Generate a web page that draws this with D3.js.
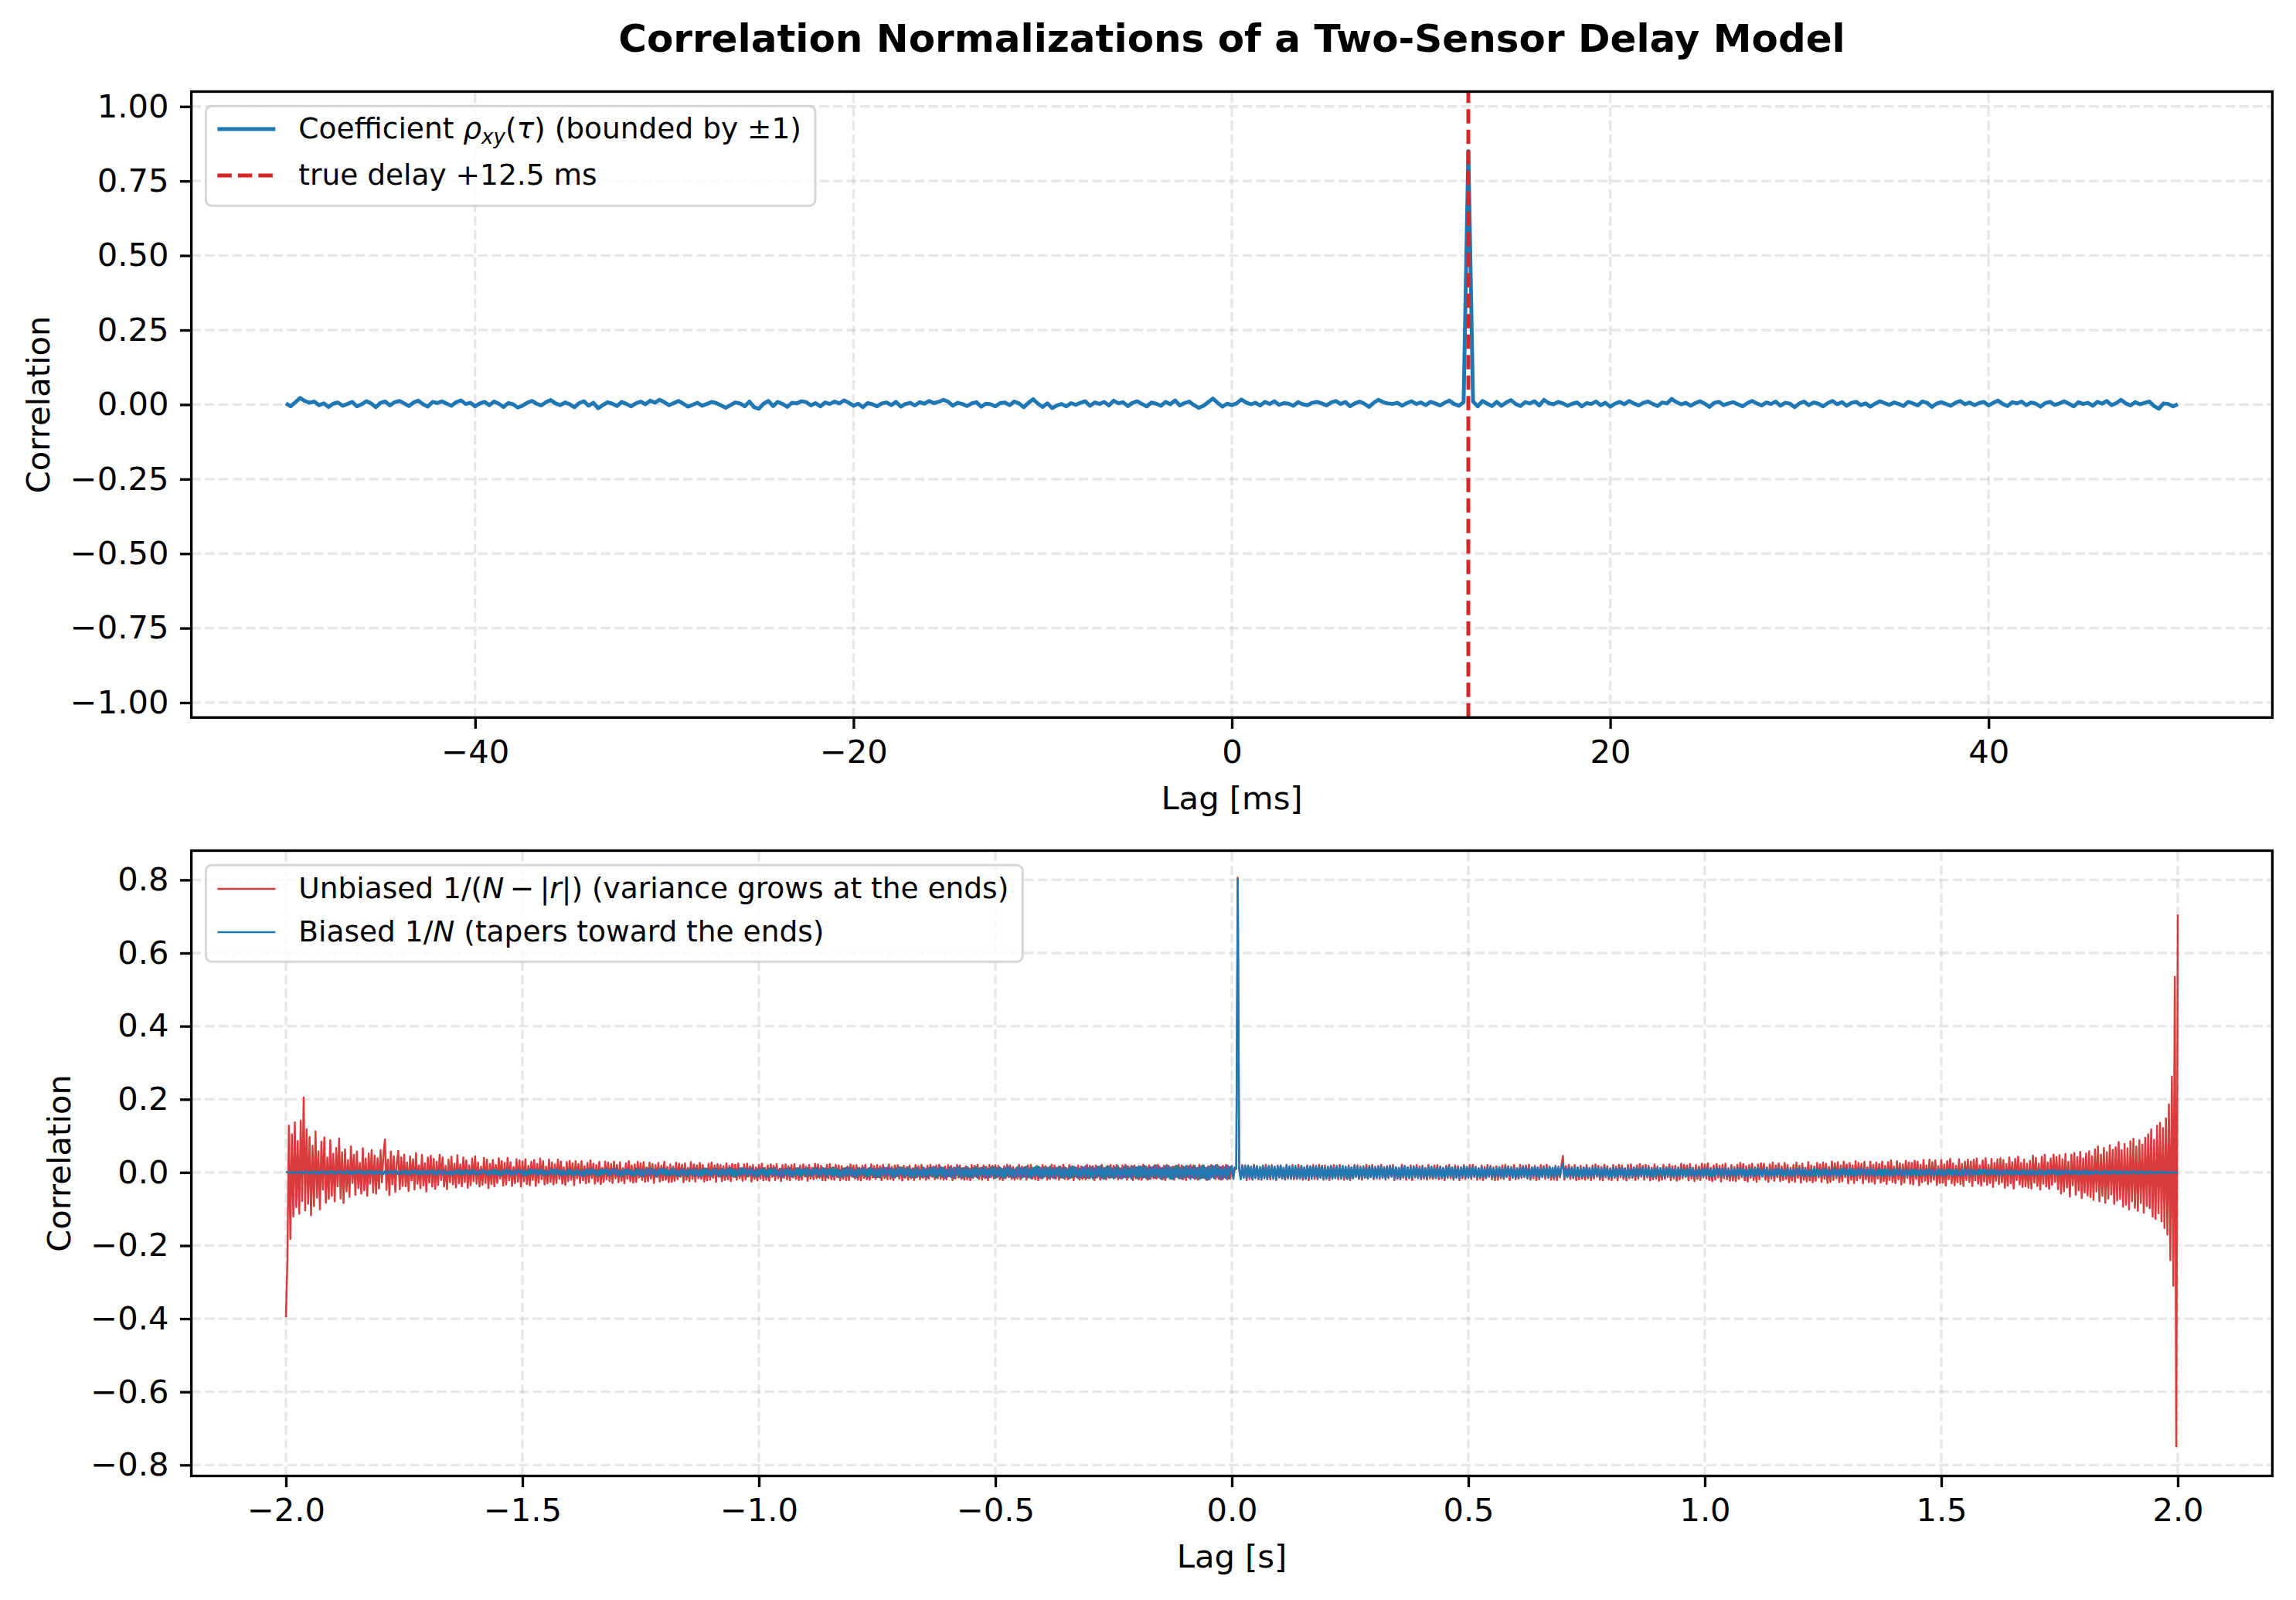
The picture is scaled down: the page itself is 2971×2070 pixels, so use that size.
<!DOCTYPE html>
<html>
<head>
<meta charset="utf-8">
<script src="https://cdn.jsdelivr.net/npm/d3@7"></script>
<style>
  html, body { margin: 0; padding: 0; background: #fff; }
  svg { display: block; }
  text { font-family: "DejaVu Sans", sans-serif; }
</style>
</head>
<body>
<div id="chart"></div>
<script>
// ---- data ----

// top panel: correlation coefficient, lag -50..50 ms every 0.25 ms
const lagMsStart = -50, lagMsEnd = 50;
const rhoCoef = [
  .004, -.006, .008, .022, .012, .006, .010, -.002, .004, -.008, .003, .007, -.004, .002, .009, -.006, .001, .011, .004, -.009,
  .006, .010, -.003, .008, .012, .004, -.005, .007, .013, .001, -.007, .009, .005, .011, .003, -.004, .008, .014, .002, .006,
  -.006, .004, .009, -.002, .010, .003, -.008, .005, .001, -.010, -.004, .006, .012, .003, -.003, .008, .015, .004, -.002, .007,
  .001, -.009, .005, .011, -.004, .006, -.012, -.002, .008, .003, -.005, .009, .002, -.006, .004, .010, .001, .013, .006, .016,
  .008, -.002, .005, .012, .003, -.007, -.001, .006, -.004, .002, .009, .005, -.003, -.011, -.002, .007, .004, -.006, .010, -.009,
  -.014, .003, .012, -.005, .009, .002, -.008, .006, .004, .011, .008, -.003, .005, -.006, .007, .002, .010, .004, .014, .006,
  -.004, .003, -.009, .005, .001, -.006, .004, .007, -.002, .009, -.007, .002, .006, -.003, .008, .003, .012, .005, .009, .016,
  .010, -.004, .006, .002, -.005, .004, .008, -.007, .003, .001, -.006, .005, .007, -.002, .010, .004, -.009, .006, .018, .003,
  -.008, .004, -.012, -.003, .002, -.006, .005, -.001, .006, .011, -.004, .007, .002, .009, -.003, .013, .004, .008, -.005, .006,
  .011, .002, -.006, .007, .003, -.004, .009, .001, .014, -.003, .005, .010, -.002, -.011, -.004, .008, .020, .006, -.007, .003,
  -.002, .004, .017, .007, .001, .006, -.003, .009, .002, .011, -.001, .005, .003, -.004, .008, .001, -.002, .006, .009, .004,
  -.003, .007, .012, .002, .009, -.006, .004, .010, .003, -.008, .006, .016, .008, .004, .002, .006, -.004, .005, .011, .002,
  .007, -.002, .009, .004, -.003, .006, .013, .002, -.004, .008, .850, .010, -.006, .012, .003, -.005, .009, -.004, .007, .015,
  .002, -.005, .008, .004, .011, -.003, .016, .005, .001, .009, .004, -.004, .003, .007, -.006, .005, .002, .010, -.002, .006,
  -.007, .003, .009, .001, .012, .004, -.003, .006, .010, .002, -.005, .007, .004, .019, .008, .001, .006, -.004, .005, .011,
  .003, -.008, .006, .009, -.002, .004, .008, .001, -.006, .005, .012, .004, -.003, .007, .002, .010, -.004, .006, .003, -.009,
  .004, .010, -.002, .007, .003, -.006, .005, .012, .001, .008, -.004, .006, .009, -.002, .004, -.007, .003, .011, .005, -.001,
  .007, .002, -.005, .009, .004, -.003, .010, .006, -.008, .003, .008, .002, -.004, .006, .012, .001, .007, -.002, .005, .009,
  -.003, .006, .013, .002, -.005, .008, .004, .010, -.002, .007, .003, -.007, .005, .009, -.001, .004, .011, .003, -.006, .008,
  .002, .006, -.004, .009, .003, .012, -.002, .005, .016, .004, -.003, .008, .001, .006, .010, -.005, -.014, .004, .002, -.006,
  .001
];
const trueDelayMs = 12.5;

// bottom panel: raw cross-correlation, lag -2..2 s (one row = 62.5 ms)
const lagSStart = -2, lagSEnd = 2;
const unbiasedR = [
  -.396, -.240, .128, -.182, .104, -.121, .137, -.095, .086, -.113, .142, -.078, .205, -.104, .118, -.086, .097, -.117, .073, -.092,
  .112, -.069, .058, -.101, .084, -.047, .096, -.083, .041, -.072, .088, -.064, .051, -.079, .067, -.038, .093, -.071, .055, -.084,
  .063, -.052, .034, -.067, .071, -.029, .048, -.061, .057, -.043, .026, -.058, .066, -.049, .038, -.064, .052, -.031, .061, -.055,
  .046, -.058, .039, -.044, .061, -.027, .052, .090, -.048, .035, -.062, .057, -.033, .044, -.053, .028, .059, -.046, .041, -.037,
  .049, -.038, .027, -.051, .044, -.022, .036, -.047, .053, -.031, .019, -.043, .048, -.036, .025, -.052, .041, -.028, .046, -.039,
  .037, -.045, .029, -.034, .048, -.021, .041, -.039, .018, -.046, .035, -.027, .043, -.033, .024, -.041, .047, -.030, .022, -.038,
  .041, -.026, .033, -.042, .019, -.035, .038, -.024, .044, -.031, .027, -.039, .016, -.034, .040, -.029, .035, -.043, .023, -.032,
  .034, -.038, .021, -.029, .039, -.017, .031, -.036, .026, -.033, .040, -.022, .028, -.037, .015, -.030, .036, -.025, .033, -.039,
  .030, -.024, .036, -.032, .018, -.035, .029, -.021, .034, -.037, .023, -.028, .038, -.019, .031, -.033, .016, -.030, .035, -.026,
  .027, -.033, .022, -.029, .035, -.018, .030, -.031, .014, -.034, .028, -.024, .032, -.020, .025, -.035, .031, -.016, .023, -.029,
  .031, -.022, .017, -.030, .026, -.027, .033, -.015, .024, -.031, .020, -.025, .029, -.032, .013, -.026, .030, -.019, .027, -.024,
  .023, -.029, .030, -.016, .021, -.027, .028, -.023, .012, -.030, .025, -.018, .031, -.024, .019, -.028, .022, -.026, .029, -.014,
  .025, -.021, .028, -.026, .014, -.024, .027, -.017, .023, -.029, .020, -.013, .026, -.025, .018, -.022, .029, -.020, .015, -.027,
  .022, -.026, .016, -.023, .027, -.019, .024, -.012, .021, -.027, .025, -.020, .013, -.024, .028, -.018, .022, -.025, .019, -.016,
  .026, -.018, .021, -.025, .011, -.022, .024, -.020, .027, -.015, .019, -.026, .023, -.012, .020, -.024, .017, -.021, .025, -.019,
  .018, -.024, .023, -.013, .021, -.020, .025, -.016, .012, -.023, .022, -.019, .024, -.011, .017, -.025, .020, -.018, .014, -.022,
  .021, -.017, .024, -.022, .013, -.020, .019, -.023, .022, -.012, .018, -.021, .023, -.016, .010, -.024, .020, -.015, .022, -.019,
  .017, -.022, .020, -.014, .023, -.018, .012, -.021, .019, -.020, .022, -.011, .016, -.023, .021, -.017, .013, -.019, .024, -.016,
  .022, -.015, .018, -.021, .011, -.022, .020, -.016, .023, -.019, .014, -.020, .021, -.013, .019, -.022, .017, -.018, .012, -.021,
  .016, -.021, .022, -.012, .019, -.017, .020, -.020, .013, -.022, .018, -.015, .021, -.019, .011, -.020, .022, -.014, .017, -.018,
  .020, -.013, .017, -.021, .021, -.016, .012, -.019, .022, -.018, .015, -.021, .019, -.011, .020, -.017, .014, -.022, .018, -.015,
  .014, -.020, .019, -.016, .011, -.021, .020, -.013, .017, -.019, .021, -.015, .012, -.020, .018, -.017, .021, -.012, .016, -.019,
  .019, -.016, .021, -.018, .013, -.020, .016, -.019, .020, -.011, .018, -.021, .014, -.017, .021, -.014, .019, -.018, .012, -.020,
  .017, -.019, .012, -.021, .020, -.015, .018, -.012, .021, -.018, .013, -.020, .019, -.016, .015, -.021, .020, -.013, .018, -.017,
  .020, -.014, .018, -.019, .011, -.021, .017, -.016, .021, -.013, .019, -.018, .015, -.020, .012, -.017, .021, -.019, .016, -.012,
  .015, -.020, .019, -.013, .021, -.017, .012, -.019, .018, -.021, .014, -.016, .020, -.012, .017, -.020, .013, -.018, .021, -.015,
  .019, -.017, .013, -.020, .016, -.014, .021, -.018, .012, -.019, .020, -.015, .017, -.021, .014, -.013, .019, -.020, .016, -.018,
  .013, -.019, .021, -.016, .018, -.012, .017, -.021, .019, -.014, .015, -.020, .021, -.017, .012, -.019, .018, -.015, .020, -.013,
  .018, -.015, .020, -.019, .012, -.017, .019, -.013, .021, -.020, .016, -.012, .018, -.021, .019, -.016, .014, -.019, .017, -.020,
  .021, -.013, .016, -.020, .019, -.018, .013, -.016, .020, -.017, .021, -.014, .012, -.019, .018, -.021, .020, -.012, .015, -.018,
  .016, -.020, .018, -.012, .021, -.016, .019, -.019, .014, -.021, .017, -.015, .020, -.013, .019, -.018, .012, -.020, .021, -.016,
  .019, -.014, .013, -.021, .017, -.019, .020, -.012, .016, -.018, .021, -.017, .014, -.020, .018, -.013, .020, -.019, .015, -.017,
  .018, -.015, .012, .010, .806, .009, -.017, .020, -.014, .019, -.021, .016, -.018, .013, -.020, .021, -.016, .017, -.019, .012,
  -.020, .018, -.013, .021, -.017, .015, -.019, .020, -.012, .016, -.021, .019, -.014, .018, -.016, .013, -.020, .021, -.017, .014,
  -.016, .020, -.019, .012, -.018, .021, -.015, .017, -.020, .013, -.017, .019, -.021, .016, -.012, .020, -.018, .014, -.019, .021,
  -.013, .017, -.020, .019, -.015, .012, -.021, .018, -.016, .020, -.014, .013, -.019, .021, -.017, .015, -.020, .012, -.018, .019,
  -.021, .014, -.016, .020, -.012, .019, -.018, .016, -.020, .013, -.015, .021, -.017, .018, -.013, .020, -.019, .016, -.014, .017,
  -.018, .021, -.013, .015, -.020, .017, -.016, .019, -.012, .020, -.021, .014, -.018, .012, -.019, .021, -.015, .018, -.020, .013,
  -.015, .019, -.021, .017, -.014, .020, -.012, .016, -.019, .018, -.017, .013, -.020, .021, -.016, .014, -.018, .019, -.013, .020,
  -.019, .016, -.017, .013, -.021, .018, -.015, .021, -.016, .012, -.020, .019, -.014, .017, -.021, .013, -.016, .020, -.018, .015,
  -.014, .020, -.018, .021, -.013, .016, -.020, .012, -.017, .019, -.021, .015, -.016, .020, -.012, .018, -.019, .014, -.021, .017,
  -.020, .013, -.016, .019, -.018, .021, -.012, .017, -.021, .015, -.014, .020, -.019, .012, -.017, .021, -.015, .018, -.013, .019,
  -.017, .021, -.020, .014, -.016, .018, -.021, .013, -.019, .020, -.012, .017, -.018, .021, -.015, .016, -.020, .012, -.019, .018,
  -.021, .016, -.014, .019, .045, -.020, .017, -.013, .021, -.018, .015, -.016, .020, -.021, .012, -.019, .018, -.017, .014, -.020,
  .020, -.016, .013, -.021, .019, -.017, .022, -.012, .018, -.020, .015, -.022, .021, -.014, .017, -.019, .012, -.021, .020, -.015,
  .016, -.022, .021, -.013, .019, -.018, .012, -.022, .020, -.016, .022, -.015, .014, -.021, .019, -.017, .023, -.012, .018, -.020,
  .021, -.014, .018, -.022, .013, -.019, .022, -.017, .016, -.023, .012, -.020, .021, -.018, .015, -.013, .022, -.021, .017, -.016,
  .018, -.023, .014, -.019, .024, -.016, .021, -.012, .019, -.022, .023, -.017, .013, -.024, .020, -.018, .016, -.021, .024, -.014,
  .022, -.017, .025, -.021, .013, -.024, .019, -.020, .023, -.014, .018, -.025, .021, -.016, .024, -.019, .012, -.023, .020, -.022,
  .015, -.024, .021, -.018, .026, -.013, .023, -.022, .017, -.025, .020, -.015, .024, -.021, .014, -.026, .022, -.019, .025, -.012,
  .024, -.020, .014, -.026, .022, -.017, .027, -.023, .019, -.013, .025, -.024, .016, -.021, .026, -.018, .020, -.027, .013, -.022,
  .021, -.026, .027, -.015, .018, -.028, .024, -.020, .013, -.025, .028, -.022, .019, -.027, .016, -.023, .026, -.014, .022, -.026,
  .027, -.018, .024, -.029, .015, -.026, .030, -.021, .025, -.016, .028, -.027, .019, -.024, .029, -.013, .022, -.030, .026, -.020,
  .019, -.029, .031, -.022, .026, -.016, .024, -.030, .029, -.019, .014, -.027, .030, -.025, .021, -.031, .027, -.017, .023, -.028,
  .030, -.024, .018, -.032, .028, -.021, .033, -.026, .016, -.030, .031, -.019, .025, -.033, .022, -.028, .032, -.015, .027, -.031,
  .026, -.033, .032, -.018, .029, -.035, .021, -.027, .034, -.023, .019, -.032, .035, -.026, .028, -.020, .033, -.034, .017, -.029,
  .034, -.028, .022, -.036, .031, -.019, .037, -.030, .025, -.035, .018, -.027, .036, -.032, .023, -.037, .029, -.021, .035, -.026,
  .029, -.037, .035, -.022, .038, -.031, .019, -.036, .033, -.025, .039, -.034, .021, -.029, .037, -.040, .026, -.023, .036, -.032,
  .039, -.027, .034, -.042, .023, -.036, .041, -.030, .028, -.044, .037, -.021, .043, -.033, .026, -.040, .035, -.038, .024, -.042,
  .032, -.044, .046, -.028, .040, -.037, .024, -.047, .043, -.031, .048, -.039, .027, -.045, .038, -.034, .049, -.026, .042, -.046,
  .047, -.058, .036, -.052, .051, -.041, .029, -.066, .048, -.035, .053, -.061, .042, -.049, .056, -.070, .038, -.055, .052, -.063,
  .058, -.068, .044, -.075, .063, -.052, .071, -.079, .049, -.064, .067, -.083, .055, -.071, .074, -.060, .062, -.086, .069, -.077,
  .083, -.072, .061, -.094, .078, -.088, .066, -.101, .085, -.079, .092, -.097, .071, -.105, .088, -.084, .076, -.110, .095, -.092,
  .104, -.098, .118, -.121, .089, -.127, .128, -.112, .136, -.134, .121, -.152, .148, -.170, .186, -.240, .262, -.310, .535, -.749,
  .705
];
const biasedR = [
  .000, .001, -.001, .001, -.002, .001, -.001, .002, -.001, .002, -.002, .001, -.002, .003, -.001, .002, -.003, .002, -.002, .003,
  -.003, .002, -.004, .003, -.002, .004, -.003, .001, -.004, .003, -.002, .004, -.003, .002, -.004, .003, -.001, .004, -.003, .002,
  -.004, .005, -.003, .004, -.005, .002, -.004, .005, -.003, .004, -.002, .005, -.004, .003, -.005, .004, -.002, .005, -.004, .003,
  -.005, .004, -.003, .005, -.004, .002, -.005, .004, -.005, .003, -.002, .005, -.004, .005, -.003, .004, -.005, .002, -.004, .005,
  -.004, .006, -.005, .003, -.006, .005, -.002, .006, -.004, .005, -.006, .003, -.005, .006, -.003, .004, -.006, .005, -.002, .006,
  -.005, .004, -.007, .006, -.003, .005, -.006, .007, -.004, .002, -.006, .005, -.007, .004, -.005, .006, -.003, .007, -.006, .004,
  -.006, .007, -.003, .005, -.007, .006, -.004, .007, -.005, .003, -.007, .006, -.005, .007, -.002, .005, -.006, .004, -.007, .006,
  -.004, .008, -.006, .005, -.008, .003, -.007, .006, -.005, .008, -.003, .007, -.008, .004, -.006, .007, -.005, .008, -.002, .006,
  -.008, .006, -.009, .004, -.007, .009, -.005, .007, -.003, .008, -.009, .006, -.004, .009, -.007, .005, -.008, .003, -.006, .009,
  -.005, .008, -.007, .009, -.004, .006, -.009, .007, -.006, .003, -.008, .009, -.005, .007, -.009, .004, -.006, .008, -.007, .005,
  -.009, .006, -.010, .008, -.005, .009, -.007, .010, -.004, .007, -.008, .005, -.010, .009, -.006, .008, -.003, .010, -.009, .006,
  -.007, .009, -.004, .010, -.008, .006, -.010, .005, -.009, .008, -.006, .010, -.005, .007, -.009, .004, -.008, .010, -.006, .009,
  -.010, .007, -.011, .009, -.006, .010, -.008, .011, -.005, .008, -.011, .006, -.009, .010, -.004, .011, -.007, .009, -.010, .005,
  -.008, .011, -.006, .009, -.010, .004, -.011, .008, -.007, .010, -.009, .006, -.011, .009, -.005, .007, -.010, .011, -.008, .006,
  -.011, .008, -.009, .011, -.005, .010, -.008, .006, -.010, .009, -.004, .011, -.009, .007, -.011, .010, -.006, .008, -.010, .011,
  -.007, .012, -.010, .008, -.012, .006, -.009, .011, -.008, .012, -.005, .010, -.011, .009, -.007, .012, -.010, .006, -.012, .009,
  -.011, .009, -.006, .012, -.010, .007, -.012, .010, -.005, .011, -.009, .012, -.008, .006, -.011, .010, -.012, .008, -.007, .011,
  -.009, .012, -.011, .005, -.010, .011, -.007, .012, -.012, .008, -.006, .010, -.011, .012, -.009, .007, -.010, .011, -.005, .012,
  -.012, .008, -.010, .013, -.007, .011, -.013, .009, -.006, .012, -.011, .013, -.008, .010, -.013, .006, -.012, .011, -.009, .013,
  -.010, .013, -.008, .011, -.012, .007, -.013, .012, -.009, .010, -.006, .013, -.011, .008, -.012, .013, -.007, .010, -.013, .009,
  -.013, .010, -.014, .012, -.008, .013, -.011, .014, -.007, .011, -.013, .009, -.014, .012, -.010, .014, -.006, .013, -.012, .010,
  -.009, .014, -.012, .008, -.013, .011, -.014, .013, -.010, .007, -.012, .014, -.011, .009, -.014, .012, -.008, .013, -.011, .014,
  -.014, .011, -.009, .015, -.012, .013, -.015, .008, -.011, .014, -.013, .010, -.015, .012, -.007, .015, -.013, .011, -.014, .012,
  -.011, .015, -.013, .009, -.014, .012, -.010, .015, -.015, .011, -.008, .013, -.012, .015, -.014, .010, -.013, .014, -.009, .015,
  -.015, .012, -.011, .014, -.013, .009, -.015, .013, -.010, .015, -.012, .011, -.014, .008, -.013, .015, -.011, .012, -.015, .013,
  -.012, .016, -.014, .010, -.016, .013, -.011, .015, -.009, .016, -.014, .012, -.016, .014, -.010, .013, -.015, .016, -.012, .011,
  -.016, .013, -.010, .016, -.014, .011, -.015, .014, -.012, .009, -.016, .015, -.013, .016, -.011, .012, -.016, .010, -.014, .015,
  -.013, .017, -.015, .012, -.016, .014, -.017, .011, -.014, .016, -.010, .017, -.015, .013, -.017, .015, -.012, .016, -.014, .011,
  -.017, .014, -.012, .017, -.015, .010, -.016, .015, -.013, .017, -.014, .012, -.017, .016, -.011, .014, -.016, .017, -.013, .015,
  -.014, .018, -.016, .013, -.018, .015, -.011, .017, -.015, .018, -.013, .016, -.018, .012, -.016, .017, -.014, .018, -.017, .013,
  -.018, .015, -.013, .018, -.016, .012, -.017, .016, -.014, .018, -.012, .017, -.018, .014, -.015, .018, -.016, .013, -.018, .016,
  -.015, .019, -.017, .013, -.019, .016, -.014, .018, -.016, .019, -.012, .017, -.019, .015, -.018, .014, -.016, .019, -.017, .015,
  .016, -.018, .014, .010, .802, .008, -.019, .017, -.015, .018, -.016, .019, -.013, .016, -.019, .018, -.014, .017, -.018, .015,
  -.017, .019, -.016, .014, -.019, .018, -.013, .017, -.018, .015, -.019, .016, -.014, .019, -.017, .013, -.018, .019, -.015, .017,
  -.018, .016, -.014, .018, -.016, .012, -.017, .018, -.015, .014, -.018, .016, -.013, .017, -.018, .015, -.012, .018, -.016, .014,
  -.015, .018, -.017, .013, -.018, .016, -.014, .017, -.018, .012, -.016, .018, -.015, .014, -.017, .018, -.013, .016, -.018, .015,
  -.017, .014, -.016, .017, -.012, .015, -.017, .013, -.015, .017, -.014, .011, -.017, .016, -.013, .017, -.015, .012, -.016, .017,
  -.013, .017, -.015, .012, -.017, .016, -.014, .017, -.011, .015, -.017, .014, -.016, .013, -.017, .015, -.012, .017, -.015, .014,
  -.016, .013, -.015, .016, -.011, .014, -.016, .012, -.015, .016, -.013, .010, -.016, .015, -.012, .016, -.014, .011, -.016, .013,
  -.012, .016, -.014, .011, -.016, .015, -.013, .016, -.010, .014, -.016, .013, -.015, .012, -.016, .014, -.011, .016, -.013, .015,
  -.015, .012, -.014, .015, -.010, .013, -.015, .011, -.014, .015, -.012, .009, -.015, .014, -.011, .015, -.013, .010, -.015, .012,
  -.011, .015, -.013, .010, -.015, .014, -.012, .015, -.009, .013, -.015, .012, -.014, .011, -.015, .013, -.010, .015, -.012, .014,
  -.014, .011, -.015, .013, -.009, .015, -.012, .014, -.015, .010, -.013, .015, -.011, .012, -.015, .014, -.010, .013, -.014, .015,
  -.012, .014, -.010, .013, .024, -.014, .011, -.013, .014, -.009, .012, -.014, .013, -.011, .014, -.012, .010, -.014, .013, -.011,
  .014, -.012, .010, -.014, .013, -.011, .014, -.009, .012, -.014, .011, -.013, .014, -.010, .012, -.014, .009, -.013, .014, -.012,
  .011, -.013, .012, -.009, .013, -.012, .010, -.013, .013, -.011, .008, -.012, .013, -.010, .012, -.013, .011, -.009, .013, -.012,
  .012, -.010, .013, -.012, .009, -.013, .011, -.012, .013, -.008, .012, -.011, .010, -.013, .012, -.009, .013, -.012, .010, -.011,
  .010, -.012, .011, -.009, .012, -.011, .008, -.012, .011, -.010, .012, -.009, .011, -.012, .007, -.011, .012, -.010, .009, -.012,
  .011, -.009, .012, -.011, .008, -.012, .010, -.011, .012, -.007, .011, -.012, .009, -.010, .012, -.011, .008, -.012, .011, -.009,
  .009, -.012, .010, -.008, .012, -.010, .011, -.012, .007, -.011, .012, -.009, .010, -.012, .011, -.008, .012, -.010, .009, -.011,
  .011, -.008, .010, -.011, .009, -.010, .007, -.011, .010, -.009, .011, -.008, .010, -.011, .006, -.010, .011, -.009, .008, -.011,
  .008, -.011, .010, -.007, .011, -.009, .010, -.011, .008, -.010, .006, -.011, .009, -.010, .011, -.008, .010, -.011, .007, -.009,
  .010, -.009, .011, -.010, .007, -.011, .009, -.008, .011, -.010, .008, -.011, .010, -.007, .011, -.009, .008, -.010, .011, -.008,
  .009, -.010, .007, -.009, .010, -.008, .010, -.006, .009, -.010, .008, -.009, .010, -.007, .009, -.010, .006, -.009, .010, -.008,
  .008, -.009, .010, -.007, .009, -.010, .006, -.009, .010, -.008, .009, -.006, .010, -.009, .007, -.010, .009, -.008, .006, -.010,
  .009, -.007, .008, -.009, .006, -.008, .009, -.007, .005, -.009, .008, -.006, .009, -.008, .007, -.009, .005, -.008, .009, -.007,
  .007, -.009, .006, -.008, .009, -.005, .008, -.009, .007, -.006, .009, -.008, .005, -.009, .008, -.007, .009, -.006, .008, -.009,
  .008, -.006, .007, -.008, .005, -.007, .008, -.006, .008, -.004, .007, -.008, .006, -.007, .008, -.005, .007, -.008, .006, -.007,
  .006, -.007, .005, -.006, .007, -.004, .006, -.007, .005, -.006, .007, -.005, .004, -.007, .006, -.005, .007, -.006, .004, -.007,
  .007, -.005, .006, -.007, .004, -.006, .007, -.005, .006, -.007, .003, -.006, .007, -.005, .006, -.004, .007, -.006, .005, -.007,
  .005, -.006, .004, -.005, .006, -.003, .005, -.006, .004, -.005, .006, -.004, .005, -.006, .003, -.005, .006, -.004, .005, -.006,
  .004, -.005, .003, -.004, .005, -.003, .004, -.005, .002, -.004, .005, -.003, .004, -.005, .003, -.004, .005, -.002, .004, -.005,
  .003, -.004, .002, -.003, .004, -.003, .002, -.004, .003, -.002, .004, -.003, .002, -.004, .003, -.002, .003, -.004, .002, -.003,
  .003, -.002, .003, -.002, .001, -.003, .002, -.002, .003, -.001, .002, -.002, .001, -.002, .002, -.001, .001, -.001, .001, -.001,
  .000
];

// ticks
const xTicksMs = [-40, -20, 0, 20, 40];
const yTicksTop = [-1, -0.75, -0.5, -0.25, 0, 0.25, 0.5, 0.75, 1];
const xTicksS = [-2, -1.5, -1, -0.5, 0, 0.5, 1, 1.5, 2];
const yTicksBottom = [-0.8, -0.6, -0.4, -0.2, 0, 0.2, 0.4, 0.6, 0.8];

// evenly spaced lag axes for the sampled series
const lagMs = rhoCoef.map((d, i) => lagMsStart + i * (lagMsEnd - lagMsStart) / (rhoCoef.length - 1));
const lagS = unbiasedR.map((d, i) => lagSStart + i * (lagSEnd - lagSStart) / (unbiasedR.length - 1));

// ---- drawing ----
const W = 2971, H = 2070;
const PT = 300 / 72;          // figure was rendered at 300 dpi
const blue = '#1f77b4', red = '#d62728';
const axLeft = 247.6, axRight = 2940.4;

const svg = d3.select('#chart')
  .append('svg')
  .attr('width', W)
  .attr('height', H);

svg.append('rect').attr('width', W).attr('height', H).attr('fill', '#fff');

svg.append('text')
  .attr('x', (axLeft + axRight) / 2)
  .attr('y', 67)
  .attr('text-anchor', 'middle')
  .style('font-size', (12 * PT) + 'px')
  .style('font-weight', 'bold')
  .text('Correlation Normalizations of a Two-Sensor Delay Model');

function addRich(textSel, parts) {
  parts.forEach(p => {
    const t = textSel.append('tspan').text(p.t);
    if (p.it) t.style('font-style', 'italic');
    if (p.size) t.style('font-size', p.size + 'px');
    if (p.dy) t.attr('dy', p.dy);
  });
}

function drawLegend(g, left, top, height, rows) {
  const fs = 9 * PT;
  const box = g.append('rect')
    .attr('x', left).attr('y', top)
    .attr('height', height)
    .attr('rx', 0.2 * fs)
    .attr('fill', '#fff').attr('fill-opacity', 0.8)
    .attr('stroke', '#cccccc').attr('stroke-opacity', 0.8)
    .attr('stroke-width', 3);

  const hx = left + 0.4 * fs;
  const tx = hx + 2 * fs + 0.8 * fs;
  let maxW = 0;
  rows.forEach(r => {
    g.append('line')
      .attr('x1', hx).attr('x2', hx + 2 * fs)
      .attr('y1', r.y).attr('y2', r.y)
      .attr('stroke', r.color)
      .attr('stroke-opacity', r.opacity || 1)
      .attr('stroke-width', r.width)
      .attr('stroke-dasharray', r.dash || null);
    const t = g.append('text')
      .attr('x', tx).attr('y', r.y + 12)
      .style('font-size', fs + 'px');
    addRich(t, r.parts);
    maxW = Math.max(maxW, t.node().getComputedTextLength());
  });
  box.attr('width', tx + maxW + 18 - left);
}

function drawPanel(p) {
  const x = d3.scaleLinear().domain(p.xDomain).range([axLeft, axRight]);
  const y = d3.scaleLinear().domain(p.yDomain).range([p.bottom, p.top]);
  const g = svg.append('g');

  // grid
  const grid = g.append('g')
    .attr('stroke', '#b0b0b0')
    .attr('stroke-opacity', 0.3)
    .attr('stroke-width', 0.8 * PT)
    .attr('stroke-dasharray', (2.96 * PT) + ' ' + (1.28 * PT));
  grid.selectAll('.gx').data(p.xTicks).enter().append('line')
    .attr('x1', d => x(d)).attr('x2', d => x(d))
    .attr('y1', p.bottom).attr('y2', p.top);
  grid.selectAll('.gy').data(p.yTicks).enter().append('line')
    .attr('x1', axLeft).attr('x2', axRight)
    .attr('y1', d => y(d)).attr('y2', d => y(d));

  // data
  svg.append('clipPath').attr('id', 'clip-' + p.id)
    .append('rect')
    .attr('x', axLeft).attr('y', p.top)
    .attr('width', axRight - axLeft).attr('height', p.bottom - p.top);
  const plot = g.append('g').attr('clip-path', 'url(#clip-' + p.id + ')');

  p.series.forEach(s => {
    const line = d3.line()
      .x((d, i) => x(s.x[i]))
      .y(d => y(d));
    plot.append('path')
      .datum(s.y)
      .attr('fill', 'none')
      .attr('stroke', s.color)
      .attr('stroke-opacity', s.opacity || 1)
      .attr('stroke-width', s.width)
      .attr('stroke-linejoin', 'round')
      .attr('d', line);
  });

  (p.vlines || []).forEach(v => {
    plot.append('line')
      .attr('x1', x(v.x)).attr('x2', x(v.x))
      .attr('y1', p.bottom).attr('y2', p.top)
      .attr('stroke', v.color)
      .attr('stroke-width', v.width)
      .attr('stroke-dasharray', v.dash);
  });

  // spines
  g.append('rect')
    .attr('x', axLeft).attr('y', p.top)
    .attr('width', axRight - axLeft).attr('height', p.bottom - p.top)
    .attr('fill', 'none')
    .attr('stroke', '#000')
    .attr('stroke-width', 0.8 * PT);

  // axes
  const xAxis = g.append('g')
    .attr('transform', 'translate(0,' + p.bottom + ')')
    .call(d3.axisBottom(x).tickValues(p.xTicks).tickFormat(p.xFmt)
      .tickSizeInner(3.5 * PT).tickSizeOuter(0).tickPadding(3.5 * PT));
  const yAxis = g.append('g')
    .attr('transform', 'translate(' + axLeft + ',0)')
    .call(d3.axisLeft(y).tickValues(p.yTicks).tickFormat(p.yFmt)
      .tickSizeInner(3.5 * PT).tickSizeOuter(0).tickPadding(3.5 * PT));
  [xAxis, yAxis].forEach(a => {
    a.select('.domain').remove();
    a.attr('font-family', '"DejaVu Sans", sans-serif').attr('font-size', 10 * PT);
    a.selectAll('.tick line').attr('stroke', '#000').attr('stroke-width', 0.8 * PT);
    a.selectAll('.tick text').attr('fill', '#000');
  });

  // axis labels
  g.append('text')
    .attr('x', (axLeft + axRight) / 2)
    .attr('y', p.bottom + 118.7)
    .attr('text-anchor', 'middle')
    .style('font-size', (10 * PT) + 'px')
    .text(p.xLabel);
  g.append('text')
    .attr('transform', 'translate(' + p.yLabelX + ',' + ((p.top + p.bottom) / 2) + ') rotate(-90)')
    .attr('text-anchor', 'middle')
    .style('font-size', (10 * PT) + 'px')
    .text('Correlation');

  drawLegend(g.append('g'), axLeft + 18.75, p.top + 18.75, p.legendHeight, p.legend);
}

drawPanel({
  id: 'coef',
  top: 118.5, bottom: 928.3,
  xDomain: [-55, 55], yDomain: [-1.05, 1.05],
  xTicks: xTicksMs, yTicks: yTicksTop,
  xFmt: d3.format('d'), yFmt: d3.format('.2f'),
  xLabel: 'Lag [ms]', yLabelX: 64,
  series: [{ x: lagMs, y: rhoCoef, color: blue, width: 1.2 * PT }],
  vlines: [{ x: trueDelayMs, color: red, width: 1.2 * PT, dash: (4.44 * PT) + ' ' + (1.92 * PT) }],
  legendHeight: 129,
  legend: [
    { y: 167, color: blue, width: 1.2 * PT, parts: [
      { t: 'Coefficient ' }, { t: 'ρ', it: true },
      { t: 'xy', it: true, size: 26, dy: 7 }, { t: '(', dy: -7 },
      { t: 'τ', it: true }, { t: ') (bounded by ±1)' }] },
    { y: 227, color: red, width: 1.2 * PT, dash: (4.44 * PT) + ' ' + (1.92 * PT), parts: [
      { t: 'true delay +12.5 ms' }] }
  ]
});

drawPanel({
  id: 'raw',
  top: 1100.5, bottom: 1909.5,
  xDomain: [-2.2, 2.2], yDomain: [-0.83, 0.88],
  xTicks: xTicksS, yTicks: yTicksBottom,
  xFmt: d3.format('.1f'), yFmt: d3.format('.1f'),
  xLabel: 'Lag [s]', yLabelX: 90.6,
  series: [
    { x: lagS, y: unbiasedR, color: red, opacity: 0.9, width: 0.6 * PT },
    { x: lagS, y: biasedR, color: blue, width: 0.6 * PT }
  ],
  legendHeight: 125,
  legend: [
    { y: 1150, color: red, opacity: 0.9, width: 0.6 * PT, parts: [
      { t: 'Unbiased 1/(' }, { t: 'N', it: true }, { t: '\u2009−\u2009|' },
      { t: 'r', it: true }, { t: '|) (variance grows at the ends)' }] },
    { y: 1206, color: blue, width: 0.6 * PT, parts: [
      { t: 'Biased 1/' }, { t: 'N', it: true }, { t: ' (tapers toward the ends)' }] }
  ]
});
</script>
</body>
</html>
